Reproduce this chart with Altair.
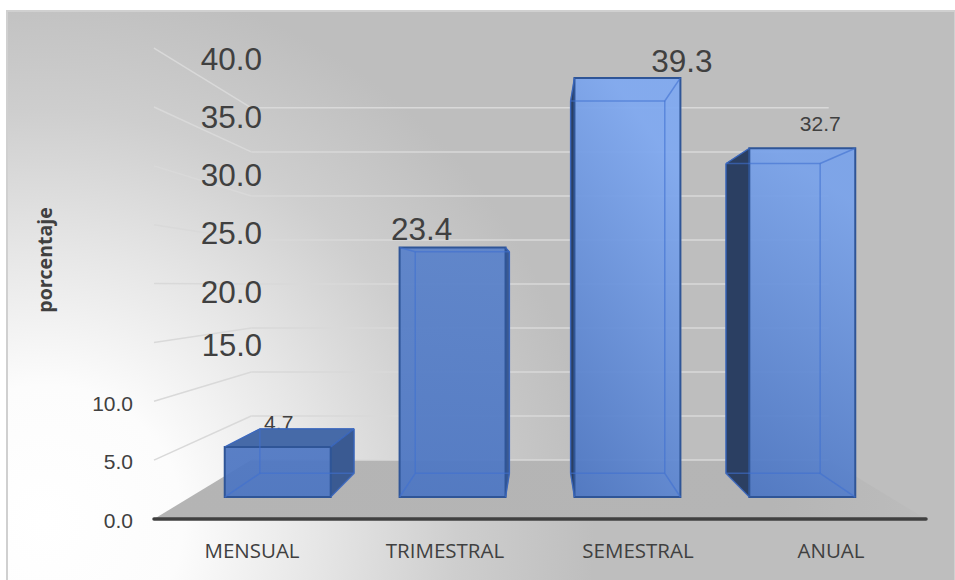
import altair as alt
import pandas as pd

# Survey result: share of respondents per payment period
categories = ["MENSUAL", "TRIMESTRAL", "SEMESTRAL", "ANUAL"]
values = [4.7, 23.4, 39.3, 32.7]
tick_values = [0, 5, 10, 15, 20, 25, 30, 35, 40]
large_ticks = [20, 25, 30, 35, 40]
value_labels = ["4.7", "23.4", "39.3", "32.7"]

W, H = 955, 580

# Perspective box: every point is pulled towards a vanishing point by a depth factor k
VX, VY = 540, 285
BASE_Y, UNIT = 519, 11.77
HALF_W = 386
K_FRONT, K_BACK, K_WALL = 0.906, 0.805, 0.748
STEP = 2 * HALF_W / len(categories)
BAR_HALF = 58.5


def project(wx, k, v):
    return VX + wx * k, VY + (BASE_Y - v * UNIT - VY) * k


PX = alt.Scale(domain=[0, W], range=[0, W], nice=False, zero=False)
PY = alt.Scale(domain=[0, H], range=[0, H], nice=False, zero=False)


def qx(f="x"):
    return alt.X(f, type="quantitative", scale=PX, axis=None)


def qy(f="y"):
    return alt.Y(f, type="quantitative", scale=PY, axis=None)


def value_scale(k):
    bottom = project(0, k, 0)[1]
    return alt.Scale(domain=[0, 40], range=[bottom, bottom - 40 * UNIT * k], nice=False, zero=False)


def band_scale(k, inner=0.0, outer=0.0):
    return alt.Scale(
        domain=categories,
        range=[VX - HALF_W * k, VX + HALF_W * k],
        paddingInner=inner,
        paddingOuter=outer,
    )


layers = []

# Page panel with its soft white glow in the lower left corner
panel = pd.DataFrame({"x": [7], "x2": [7 + 948], "y": [11], "y2": [11 + 948]})
glow = alt.Gradient(
    gradient="radial",
    x1=0.04, y1=0.54, r1=0.0,
    x2=0.04, y2=0.54, r2=0.58,
    stops=[
        alt.GradientStop(color="#ffffff", offset=0),
        alt.GradientStop(color="#fcfcfc", offset=0.25),
        alt.GradientStop(color="#e6e6e6", offset=0.5),
        alt.GradientStop(color="#cecece", offset=0.75),
        alt.GradientStop(color="#bebebe", offset=1),
    ],
)
layers.append(
    alt.Chart(panel).mark_rect(fill=glow, stroke="#d0d0d0", strokeWidth=2).encode(
        x=qx(), x2=alt.X2("x2"), y=qy(), y2=alt.Y2("y2")
    )
)

# Floor of the box
x_bl, y_back = project(-HALF_W, K_WALL, 0)
x_br, _ = project(HALF_W, K_WALL, 0)
x_fl, y_front = project(-HALF_W, 1, 0)
x_fr, _ = project(HALF_W, 1, 0)
floor = pd.DataFrame({"y": [y_back, y_front], "x": [x_bl, x_fl], "x2": [x_br, x_fr]})
layers.append(
    alt.Chart(floor).mark_area(
        orient="horizontal",
        fill=alt.Gradient(
            gradient="linear", x1=0, y1=0, x2=1, y2=0,
            stops=[
                alt.GradientStop(color="#b4b4b4", offset=0),
                alt.GradientStop(color="#b5b5b5", offset=0.8),
                alt.GradientStop(color="#bcbcbc", offset=1),
            ],
        ),
    ).encode(y=qy(), x=qx(), x2=alt.X2("x2"))
)

# Gridlines on the back wall
ticks_df = pd.DataFrame({"v": tick_values, "x": x_bl, "x2": x_br})
layers.append(
    alt.Chart(ticks_df).mark_rule(stroke="#d9d9d9", strokeWidth=1.5).encode(
        y=alt.Y("v:Q", scale=value_scale(K_WALL), axis=None), x=qx(), x2=alt.X2("x2")
    )
)

# Gridlines on the side wall
side_rows = []
for v in tick_values[1:]:
    for k in (1, K_WALL):
        x, y = project(-HALF_W, k, v)
        side_rows.append({"v": v, "x": x, "y": y})
layers.append(
    alt.Chart(pd.DataFrame(side_rows)).mark_line(stroke="#d9d9d9", strokeWidth=1.5).encode(
        x=qx(), y=qy(), detail="v:N"
    )
)

# Value axis labels: the upper ones are set larger and further in
label_rows = pd.DataFrame({"v": tick_values, "t": [f"{v:.1f}" for v in tick_values]})
small = label_rows[label_rows.v < 15]
mid = label_rows[label_rows.v == 15]
large = label_rows[label_rows.v.isin(large_ticks)]
small_y = alt.Scale(domain=[0, 40], range=[521.5, 53.5], nice=False, zero=False)
large_y = alt.Scale(domain=[0, 40], range=[526, 61], nice=False, zero=False)
layers.append(
    alt.Chart(small).mark_text(
        font="Liberation Sans", fontSize=21, color="#404040", align="right", baseline="middle"
    ).encode(x=alt.value(133), y=alt.Y("v:Q", scale=small_y, axis=None), text="t:N")
)
layers.append(
    alt.Chart(large).mark_text(
        font="Liberation Sans", fontSize=31.5, color="#404040", align="right", baseline="middle"
    ).encode(x=alt.value(262), y=alt.Y("v:Q", scale=large_y, axis=None), text="t:N")
)
layers.append(
    alt.Chart(mid).mark_text(
        font="Liberation Sans", fontSize=31, color="#404040", align="right", baseline="middle", dy=-5
    ).encode(x=alt.value(262), y=alt.Y("v:Q", scale=large_y, axis=None), text="t:N")
)

# Category axis line
axis_line = pd.DataFrame({"y": [BASE_Y], "x": [x_fl], "x2": [x_fr]})
layers.append(
    alt.Chart(axis_line).mark_rule(stroke="#404040", strokeWidth=3.5, strokeCap="round").encode(
        y=qy(), x=qx(), x2=alt.X2("x2")
    )
)

# Small value label sits behind its low bar
low_label = pd.DataFrame({"c": [categories[0]], "v": [values[0]], "t": [value_labels[0]]})
layers.append(
    alt.Chart(low_label).mark_text(
        font="Liberation Sans", fontSize=21, color="#404040", baseline="middle", dx=1, dy=-23
    ).encode(
        x=alt.X("c:N", scale=band_scale(K_FRONT, 0.394, 0.197), axis=None),
        y=alt.Y("v:Q", scale=value_scale(K_FRONT), axis=None),
        text="t:N",
    )
)

FRONT_BOTTOM = "#4d76c2"
FRONT_TOPS = ["#5078c3", "#5a82ca", "#80a9f0", "#7aa3ea"]
GRAD_TILT = [0.0, 0.1, 0.35, 0.2]
LEFT_FACE = "#2b3f62"
RIGHT_FACE = "#3a5a92"
TOP_FACE = "#466aa8"
EDGE = "#2f5597"
INNER = "#3f6fd0"

# One translucent box per category, back to front
for i, (cat, val) in enumerate(zip(categories, values)):
    centre = -HALF_W + STEP * (i + 0.5)
    left, right = centre - BAR_HALF, centre + BAR_HALF

    fl_x, fl_y0 = project(left, K_FRONT, 0)
    fr_x, _ = project(right, K_FRONT, 0)
    bl_x, bl_y0 = project(left, K_BACK, 0)
    br_x, _ = project(right, K_BACK, 0)
    f_top = project(left, K_FRONT, val)[1]
    b_top = project(left, K_BACK, val)[1]

    # Side faces, only the parts outside the front panel stay visible
    if bl_x < fl_x:
        side = pd.DataFrame({"x": [bl_x, fl_x], "y": [b_top, f_top], "y2": [bl_y0, fl_y0]})
        layers.append(
            alt.Chart(side).mark_area(fill=LEFT_FACE, stroke=EDGE, strokeWidth=1).encode(
                x=qx(), y=qy(), y2=alt.Y2("y2")
            )
        )
    if br_x > fr_x:
        side = pd.DataFrame({"x": [fr_x, br_x], "y": [f_top, b_top], "y2": [fl_y0, bl_y0]})
        layers.append(
            alt.Chart(side).mark_area(fill=RIGHT_FACE, stroke=EDGE, strokeWidth=1).encode(
                x=qx(), y=qy(), y2=alt.Y2("y2")
            )
        )
    # Lid is seen from above only while the box stays below eye level
    if b_top < f_top:
        lid = pd.DataFrame({"y": [b_top, f_top], "x": [bl_x, fl_x], "x2": [br_x, fr_x]})
        layers.append(
            alt.Chart(lid).mark_area(orient="horizontal", fill=TOP_FACE, stroke=EDGE, strokeWidth=1).encode(
                y=qy(), x=qx(), x2=alt.X2("x2")
            )
        )

    # Front panel, drawn from the value through its own scales
    front_fill = alt.Gradient(
        gradient="linear", x1=0, y1=1, x2=GRAD_TILT[i], y2=0,
        stops=[
            alt.GradientStop(color=FRONT_BOTTOM, offset=0),
            alt.GradientStop(color=FRONT_TOPS[i], offset=1),
        ],
    )
    front = pd.DataFrame({"c": [cat], "v": [val]})
    layers.append(
        alt.Chart(front).mark_bar(
            fill=front_fill, fillOpacity=0.94, stroke=EDGE, strokeWidth=2
        ).encode(
            x=alt.X("c:N", scale=band_scale(K_FRONT, 0.394, 0.197), axis=None),
            y=alt.Y("v:Q", scale=value_scale(K_FRONT), axis=None),
        )
    )

    # Back edges and depth edges, seen through the front panel
    corners = [(left, 0), (right, 0), (right, val), (left, val)]
    segs = []
    for n in range(4):
        a, b = corners[n], corners[(n + 1) % 4]
        for j, c in enumerate((a, b)):
            x, y = project(c[0], K_BACK, c[1])
            segs.append({"s": f"b{n}", "o": j, "x": x, "y": y})
        for j, k in enumerate((K_FRONT, K_BACK)):
            x, y = project(a[0], k, a[1])
            segs.append({"s": f"d{n}", "o": j, "x": x, "y": y})
    layers.append(
        alt.Chart(pd.DataFrame(segs)).mark_line(stroke=INNER, strokeWidth=1.5, opacity=0.6).encode(
            x=qx(), y=qy(), detail="s:N", order="o:Q"
        )
    )

# Remaining value labels, each placed beside or over its box
label_style = [(1, -31, -16, 31.5), (2, 54.5, -15, 31.5), (3, 18, -23, 21)]
for idx, dx, dy, size in label_style:
    row = pd.DataFrame({"c": [categories[idx]], "v": [values[idx]], "t": [value_labels[idx]]})
    layers.append(
        alt.Chart(row).mark_text(
            font="Liberation Sans", fontSize=size, color="#404040", baseline="middle", dx=dx, dy=dy
        ).encode(
            x=alt.X("c:N", scale=band_scale(K_FRONT, 0.394, 0.197), axis=None),
            y=alt.Y("v:Q", scale=value_scale(K_FRONT), axis=None),
            text="t:N",
        )
    )

# Category labels under the axis line
cat_df = pd.DataFrame({"c": categories, "y": 552})
layers.append(
    alt.Chart(cat_df).mark_text(
        font="Open Sans", fontSize=20.5, color="#404040", baseline="middle", dx=1.5
    ).encode(x=alt.X("c:N", scale=band_scale(1), axis=None), y=qy(), text="c:N")
)

# Value axis title
title_df = pd.DataFrame({"t": ["porcentaje"], "x": [46], "y": [260]})
layers.append(
    alt.Chart(title_df).mark_text(
        font="Open Sans", fontSize=19.5, fontWeight="bold", color="#404040", angle=270, baseline="middle"
    ).encode(x=qx(), y=qy(), text="t:N")
)

chart = (
    alt.layer(*layers)
    .resolve_scale(x="independent", y="independent")
    .properties(width=W, height=H, padding=0, autosize=alt.AutoSizeParams(type="none"), background="#ffffff")
    .configure_view(stroke=None)
)

chart.save("out.html", embed_options={"renderer": "svg", "actions": False})
